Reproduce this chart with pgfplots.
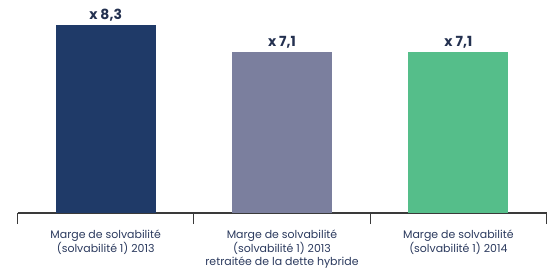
\documentclass[border=0pt]{standalone}
\usepackage{pgfplots}
\pgfplotsset{compat=1.18}
\usepackage{fontspec}
\setmainfont{Poppins}
\definecolor{navy}{HTML}{1F3A68}
\definecolor{greyblue}{HTML}{7B7F9E}
\definecolor{green}{HTML}{55BE8A}
\definecolor{txt}{HTML}{2B3A5E}
\definecolor{axisc}{HTML}{3A3A3A}
\begin{document}
\begin{tikzpicture}
\useasboundingbox (0,0) rectangle (550bp,279bp);
\begin{axis}[
  at={(17.5bp,66bp)}, anchor=south west,
  scale only axis, width=529bp, height=213bp,
  xmin=-0.5, xmax=2.5, ymin=0, ymax=9.38,
  axis x line*=bottom, hide y axis,
  x axis line style={axisc, line width=1.3pt},
  xtick={-0.5,0.5,1.5,2.5}, xticklabels={},
  xtick align=outside, major tick length=11bp,
  xtick style={axisc, line width=1.3pt},
  extra x ticks={0,1,2},
  extra x tick labels={{Marge de solvabilité\\(solvabilité 1) 2013},{Marge de solvabilité\\(solvabilité 1) 2013\\retraitée de la dette hybride},{Marge de solvabilité\\(solvabilité 1) 2014}},
  extra x tick style={major tick length=0pt, tick style={draw=none},
    ticklabel style={align=center, font=\fontsize{11}{14}\selectfont, text=txt, yshift=-13bp}},
  ybar, bar width=100bp, bar shift=0pt,
  nodes near coords,
  point meta=explicit symbolic,
  every node near coord/.append style={font=\bfseries\fontsize{14}{14}\selectfont, text=txt!85!black, yshift=0bp},
  clip=false,
]
\addplot[fill=navy, draw=none] coordinates {(0,8.3) [x 8,3]};
\addplot[fill=greyblue, draw=none] coordinates {(1,7.1) [x 7,1]};
\addplot[fill=green, draw=none] coordinates {(2,7.1) [x 7,1]};
\end{axis}
\end{tikzpicture}
\end{document}
